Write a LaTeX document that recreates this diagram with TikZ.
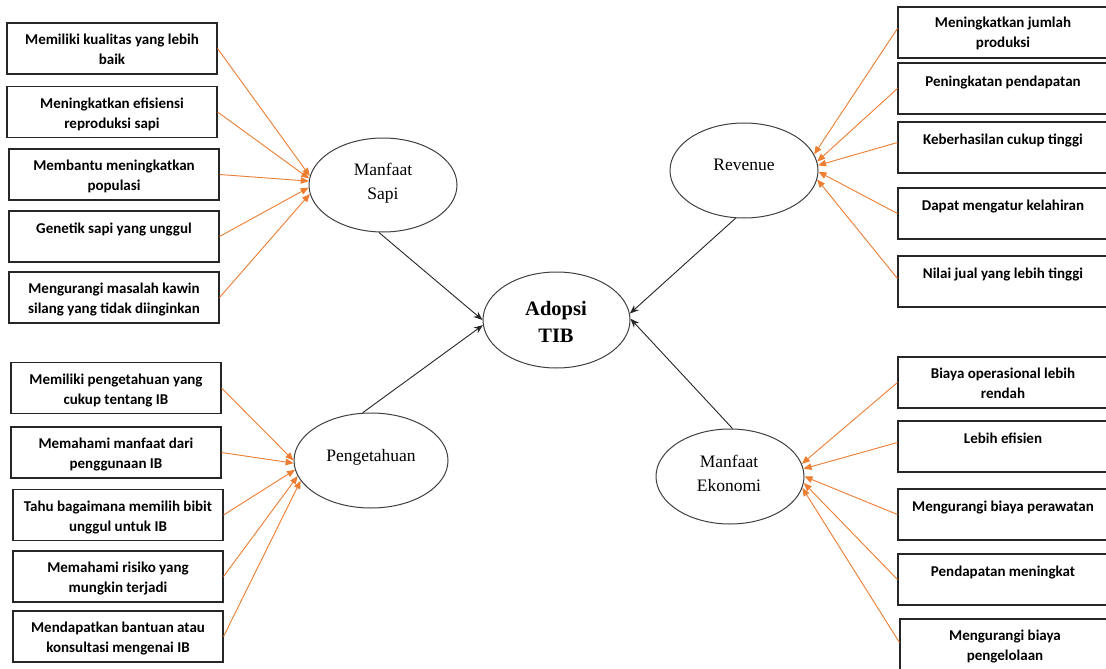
\documentclass[tikz,border=0pt]{standalone}
\usepackage{fontspec}
\setmainfont{Liberation Serif}
\newfontfamily\carlito{Carlito}
\usetikzlibrary{arrows.meta,shapes.geometric}
\definecolor{wordorange}{RGB}{237,125,49}
\begin{document}
\begin{tikzpicture}[x=1pt,y=-1pt,
  box/.style={draw=black!85,line width=1.1pt,minimum width=210pt,minimum height=51pt,inner sep=0pt},
  btext/.style={font=\carlito\bfseries\fontsize{15}{20}\selectfont,align=center,anchor=north,inner sep=0pt},
  oval/.style={ellipse,draw=black!75,line width=1pt,inner sep=0pt},
  otext/.style={font=\fontsize{17.5}{24}\selectfont,align=center,inner sep=0pt},
  oarr/.style={draw=wordorange,line width=0.9pt,-{Triangle[length=8pt,width=6.5pt]}},
  barr/.style={draw=black!85,line width=0.9pt,-{Stealth[length=9pt,width=7pt]}}]
\useasboundingbox (0,0) rectangle (1106,669);
\fill[white] (0,0) rectangle (1106,669);

% ellipses
\node[oval,minimum width=148pt,minimum height=94pt] (ms) at (383,185) {};
\node[oval,minimum width=148pt,minimum height=95pt] (rev) at (744,170.5) {};
\node[oval,minimum width=154pt,minimum height=95pt] (pen) at (371,460.5) {};
\node[oval,minimum width=148pt,minimum height=95pt] (eko) at (730,476.5) {};
\node[oval,minimum width=147pt,minimum height=96pt] (ado) at (556.5,320) {};

\node[otext] (mst) at (383,183) {Manfaat\\Sapi};
\node[otext] (revt) at (744,165) {Revenue};
\node[otext] (pent) at (371,457) {Pengetahuan};
\node[otext] (ekot) at (729,473) {Manfaat\\Ekonomi};
\node[otext,font=\bfseries\fontsize{20.5}{27}\selectfont] (adot) at (556,322) {Adopsi\\TIB};

% left top boxes
\node[box] (l1) at (112,48.5) {};
\node[box] (l2) at (112,112) {};
\node[box] (l3) at (114,174.5) {};
\node[box] (l4) at (114,236.5) {};
\node[box] (l5) at (114,297.5) {};
\node[btext] (l1t) at ([yshift=-8pt]l1.north) {\strut Memiliki kualitas yang lebih\\baik};
\node[btext] (l2t) at ([yshift=-8pt]l2.north) {\strut Meningkatkan efisiensi\\reproduksi sapi};
\node[btext] (l3t) at ([yshift=-8pt]l3.north) {\strut Membantu meningkatkan\\populasi};
\node[btext] (l4t) at ([yshift=-9pt]l4.north) {\strut Genetik sapi yang unggul};
\node[btext] (l5t) at ([yshift=-8pt]l5.north) {\strut Mengurangi masalah kawin\\silang yang tidak diinginkan};

% left bottom boxes
\node[box] (p1) at (116,388) {};
\node[box] (p2) at (116,452.5) {};
\node[box] (p3) at (118,515) {};
\node[box] (p4) at (118,576.5) {};
\node[box] (p5) at (118,636.5) {};
\node[btext] (p1t) at ([yshift=-8pt]p1.north) {\strut Memiliki pengetahuan yang\\cukup tentang IB};
\node[btext] (p2t) at ([yshift=-8pt]p2.north) {\strut Memahami manfaat dari\\penggunaan IB};
\node[btext] (p3t) at ([yshift=-8pt]p3.north) {\strut Tahu bagaimana memilih bibit\\unggul untuk IB};
\node[btext] (p4t) at ([yshift=-8pt]p4.north) {\strut Memahami risiko yang\\mungkin terjadi};
\node[btext] (p5t) at ([yshift=-8pt]p5.north) {\strut Mendapatkan bantuan atau\\konsultasi mengenai IB};

% right top boxes
\node[box] (r1) at (1003,32.5) {};
\node[box] (r2) at (1003,88.5) {};
\node[box] (r3) at (1003,147.5) {};
\node[box] (r4) at (1003,213.5) {};
\node[box] (r5) at (1003,281.5) {};
\node[btext] (r1t) at ([yshift=-7pt]r1.north) {\strut Meningkatkan jumlah\\produksi};
\node[btext] (r2t) at ([yshift=-10pt]r2.north) {\strut Peningkatan pendapatan};
\node[btext] (r3t) at ([yshift=-9pt]r3.north) {\strut Keberhasilan cukup tinggi};
\node[btext] (r4t) at ([yshift=-9pt]r4.north) {\strut Dapat mengatur kelahiran};
\node[btext] (r5t) at ([yshift=-9pt]r5.north) {\strut Nilai jual yang lebih tinggi};

% right bottom boxes
\node[box] (e1) at (1003,382.5) {};
\node[box] (e2) at (1003,446.5) {};
\node[box] (e3) at (1003,514.5) {};
\node[box] (e4) at (1003,579.5) {};
\node[box] (e5) at (1005,644.5) {};
\node[btext] (e1t) at ([yshift=-8pt]e1.north) {\strut Biaya operasional lebih\\rendah};
\node[btext] (e2t) at ([yshift=-9pt]e2.north) {\strut Lebih efisien};
\node[btext] (e3t) at ([yshift=-9pt]e3.north) {\strut Mengurangi biaya perawatan};
\node[btext] (e4t) at ([yshift=-9pt]e4.north) {\strut Pendapatan meningkat};
\node[btext] (e5t) at ([yshift=-8pt]e5.north) {\strut Mengurangi biaya\\pengelolaan};

% orange arrows
\draw[oarr] (l1.east) -- (ms.173);
\draw[oarr] (l2.east) -- (ms.175);
\draw[oarr] (l3.east) -- (ms.177);
\draw[oarr] (l4.east) -- (ms.182);
\draw[oarr] (l5.east) -- (ms.187);

\draw[oarr] (p1.east) -- (pen.180);
\draw[oarr] (p2.east) -- (pen.182.6);
\draw[oarr] (p3.east) -- (pen.187);
\draw[oarr] (p4.east) -- (pen.192.4);
\draw[oarr] (p5.east) -- (pen.196);

\draw[oarr] ([yshift=4pt]r1.west) -- (rev.13.3);
\draw[oarr] (r2.west) -- (rev.7.7);
\draw[oarr] ([yshift=5pt]r3.west) -- (rev.4);
\draw[oarr] (r4.west) -- (rev.-1.8);
\draw[oarr] ([yshift=3pt]r5.west) -- (rev.-7);

\draw[oarr] (e1.west) -- (eko.10);
\draw[oarr] ([yshift=4pt]e2.west) -- (eko.6.4);
\draw[oarr] (e3.west) -- (eko.0.4);
\draw[oarr] (e4.west) -- (eko.-5);
\draw[oarr] ([yshift=2pt]e5.west) -- (eko.-9.3);

% black arrows
\draw[barr] (ms.265) -- (ado.180.8);
\draw[barr] (pen.100) -- (ado.184);
\draw[barr] (rev.260) -- (ado.5.2);
\draw[barr] (eko.87) -- (ado.1.5);
\end{tikzpicture}
\end{document}
